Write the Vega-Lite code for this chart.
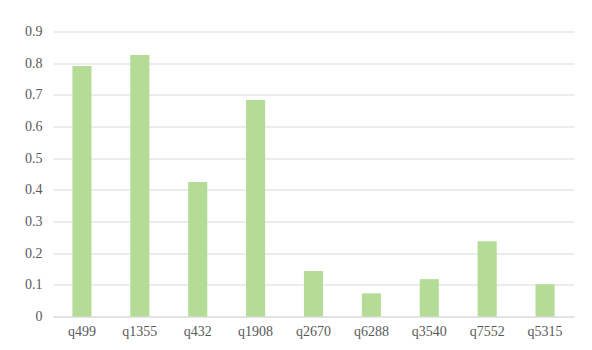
{
  "$schema": "https://vega.github.io/schema/vega-lite/v6.json",
  "width": 521,
  "height": 285,
  "autosize": {"type": "none"},
  "padding": {"left": 53, "top": 31.5, "right": 18, "bottom": 33.5},
  "background": "#ffffff",
  "data": {
    "values": [
      {"query": "q499", "value": 0.791},
      {"query": "q1355", "value": 0.826},
      {"query": "q432", "value": 0.425},
      {"query": "q1908", "value": 0.684},
      {"query": "q2670", "value": 0.144},
      {"query": "q6288", "value": 0.073},
      {"query": "q3540", "value": 0.118},
      {"query": "q7552", "value": 0.238},
      {"query": "q5315", "value": 0.102}
    ]
  },
  "mark": {"type": "bar", "color": "#b5dc96"},
  "encoding": {
    "x": {
      "field": "query",
      "type": "nominal",
      "sort": null,
      "scale": {"paddingInner": 0.67, "paddingOuter": 0.335},
      "axis": {
        "title": null,
        "labelAngle": 0,
        "ticks": false,
        "domainColor": "#d9d9d9",
        "domainWidth": 1,
        "labelPadding": 8,
        "labelFont": "'Liberation Serif', 'DejaVu Serif', serif",
        "labelFontSize": 14,
        "labelColor": "#595959"
      }
    },
    "y": {
      "field": "value",
      "type": "quantitative",
      "scale": {"domain": [0, 0.9], "nice": false},
      "axis": {
        "title": null,
        "values": [0, 0.1, 0.2, 0.3, 0.4, 0.5, 0.6, 0.7, 0.8, 0.9],
        "labelExpr": "datum.value == 0 ? '0' : format(datum.value, '.1f')",
        "ticks": false,
        "domain": false,
        "gridColor": "#d9d9d9",
        "gridWidth": 1,
        "labelPadding": 11,
        "labelFont": "'Liberation Serif', 'DejaVu Serif', serif",
        "labelFontSize": 14,
        "labelColor": "#595959"
      }
    }
  },
  "config": {"view": {"stroke": null}}
}
